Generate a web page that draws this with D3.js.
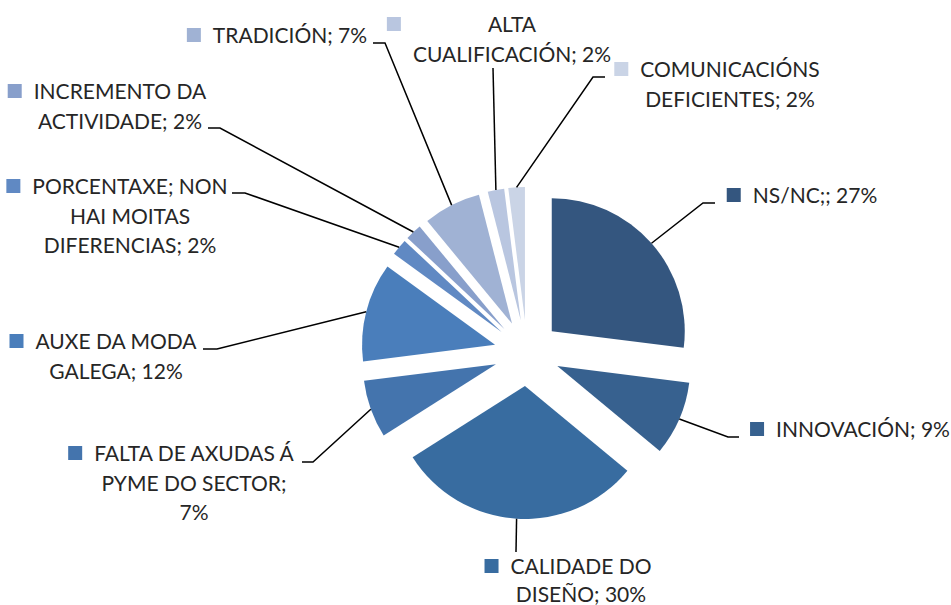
<!DOCTYPE html>
<html>
<head>
<meta charset="utf-8">
<script src="https://cdn.jsdelivr.net/npm/d3@7"></script>
<style>
  html, body { margin: 0; padding: 0; background: #fff; }
  svg { display: block; }
  text { font-family: Lato, "Open Sans", sans-serif; font-size: 21px; fill: #262626; }
</style>
</head>
<body>
<svg id="chart" width="951" height="605"></svg>
<script>
// ---- data ----
const categories = [
  "NS/NC;",
  "INNOVACIÓN",
  "CALIDADE DO DISEÑO",
  "FALTA DE AXUDAS Á PYME DO SECTOR",
  "AUXE DA MODA GALEGA",
  "PORCENTAXE; NON HAI MOITAS DIFERENCIAS",
  "INCREMENTO DA ACTIVIDADE",
  "TRADICIÓN",
  "ALTA CUALIFICACIÓN",
  "COMUNICACIÓNS DEFICIENTES"
];
const values = [27, 9, 30, 7, 12, 2, 2, 7, 2, 2];
const labelLines = [
  ["NS/NC;; 27%"],
  ["INNOVACIÓN; 9%"],
  ["CALIDADE DO", "DISEÑO; 30%"],
  ["FALTA DE AXUDAS Á", "PYME DO SECTOR;", "7%"],
  ["AUXE DA MODA", "GALEGA; 12%"],
  ["PORCENTAXE; NON", "HAI MOITAS", "DIFERENCIAS; 2%"],
  ["INCREMENTO DA", "ACTIVIDADE; 2%"],
  ["TRADICIÓN; 7%"],
  ["ALTA", "CUALIFICACIÓN; 2%"],
  ["COMUNICACIÓNS", "DEFICIENTES; 2%"]
];
const colors = ["#34567f", "#37618f", "#386ca0", "#4474ad", "#4a7ebb",
                "#6089c3", "#889fcb", "#a0b2d4", "#b9c6e0", "#cad4e6"];

// ---- layout (label block centre x, first baseline y, leader elbow points) ----
const labelLayout = [
  { cx: 815, y: 203, lh: 29.5, leader: [[715, 203], [703, 203]] },
  { cx: 863, y: 437, lh: 29.5, leader: [[739, 437], [728, 437]] },
  { cx: 581, y: 574, lh: 27.5, leader: [[516, 552]] },
  { cx: 194, y: 461, lh: 29.5, leader: [[302, 462], [313, 462]] },
  { cx: 116, y: 349, lh: 29.5, leader: [[203, 349], [217, 349]] },
  { cx: 130, y: 194, lh: 29.5, leader: [[232, 193], [245, 193]] },
  { cx: 120, y: 99,  lh: 29.5, leader: [[208, 128], [220, 128]] },
  { cx: 290, y: 43,  lh: 29.5, leader: [[373, 43], [385, 43]] },
  { cx: 512, y: 32,  lh: 29.5, leader: [[493, 68]] },
  { cx: 730, y: 77,  lh: 29.5, leader: [[605, 77], [593, 77]] }
];

const cx = 527, cy = 353, radius = 133, explode = 33;

const svg = d3.select("#chart");
const pie = d3.pie().sort(null).value(d => d)(values);
const arc = d3.arc().innerRadius(0).outerRadius(radius);
const color = d3.scaleOrdinal().domain(d3.range(values.length)).range(colors);

const g = svg.append("g").attr("transform", `translate(${cx},${cy})`);

function offset(d) {
  const a = (d.startAngle + d.endAngle) / 2;
  return [explode * Math.sin(a), -explode * Math.cos(a)];
}

g.selectAll("path.slice").data(pie).join("path")
  .attr("class", "slice")
  .attr("d", arc)
  .attr("fill", (d, i) => color(i))
  .attr("transform", d => { const o = offset(d); return `translate(${o[0]},${o[1]})`; });

// leader lines
const line = d3.line();
pie.forEach((d, i) => {
  const a = (d.startAngle + d.endAngle) / 2;
  const o = offset(d);
  const px = cx + o[0] + radius * Math.sin(a);
  const py = cy + o[1] - radius * Math.cos(a);
  const pts = labelLayout[i].leader.concat([[px, py]]);
  svg.append("path").attr("d", line(pts))
    .attr("fill", "none").attr("stroke", "#000").attr("stroke-width", 1.5);
});

// labels
labelLines.forEach((lines, i) => {
  const L = labelLayout[i];
  const grp = svg.append("g");
  let minLeft = Infinity;
  lines.forEach((t, j) => {
    const tx = grp.append("text")
      .attr("x", L.cx).attr("y", L.y + j * L.lh)
      .attr("text-anchor", "middle").text(t);
    const w = tx.node().getComputedTextLength();
    minLeft = Math.min(minLeft, L.cx - w / 2);
  });
  grp.insert("rect", "text")
    .attr("x", minLeft - 12 - 14).attr("y", L.y - 15)
    .attr("width", 14).attr("height", 14)
    .attr("fill", color(i));
});
</script>
</body>
</html>
